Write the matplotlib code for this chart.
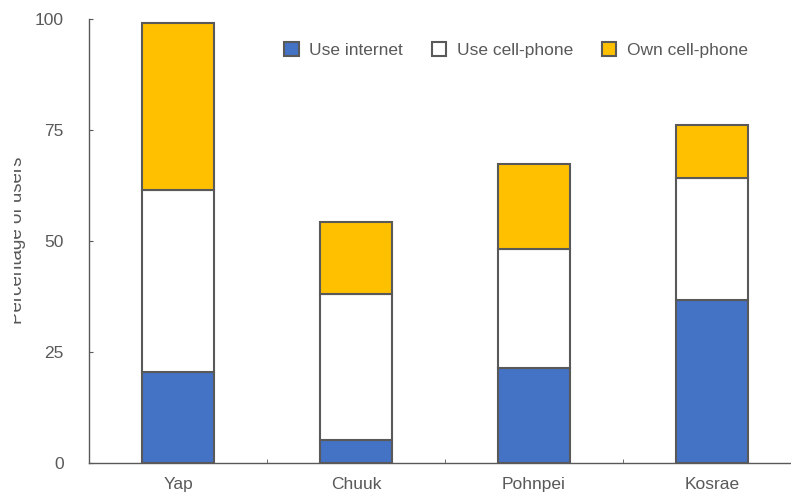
import matplotlib
matplotlib.use("Agg")
import matplotlib.pyplot as plt
from matplotlib.transforms import Bbox
import numpy as np

plt.rcParams['font.family'] = ['Liberation Sans', 'DejaVu Sans']

states = ["Yap", "Chuuk", "Pohnpei", "Kosrae"]
use_internet = [20.5, 5.2, 21.5, 36.8]
use_cellphone = [61.4, 38.1, 48.3, 64.2]   # cumulative top of white segment
own_cellphone = [99.0, 54.3, 67.3, 76.1]   # cumulative top of yellow segment

blue = "#4472C4"
yellow = "#FFC000"
edge = "#595959"
grey = "#595959"

fig = plt.figure(figsize=(7.91, 4.92), dpi=100)
ax = fig.add_axes([0.1125, 0.059, 0.9, 0.9024])

x = np.arange(len(states))
internet = np.array(use_internet)
cell = np.array(use_cellphone) - internet
own = np.array(own_cellphone) - np.array(use_cellphone)

w = 0.405
ax.bar(x, internet, w, color=blue, edgecolor=edge, linewidth=1.5, label="Use internet")
ax.bar(x, cell, w, bottom=internet, color="white", edgecolor=edge, linewidth=1.5,
       label="Use cell-phone")
ax.bar(x, own, w, bottom=np.array(use_cellphone), color=yellow, edgecolor=edge,
       linewidth=1.5, label="Own cell-phone")

ax.set_xlim(-0.5, 3.5)
ax.set_ylim(0, 100)
ax.set_yticks([0, 25, 50, 75, 100])
ax.set_xticks(x)
ax.set_xticklabels(states)
ax.set_xticks([0.5, 1.5, 2.5], minor=True)
ax.tick_params(axis='x', which='major', length=0, pad=10, labelsize=12.5, labelcolor=grey)
ax.tick_params(axis='x', which='minor', length=3, direction='in', color=edge)
ax.tick_params(axis='y', length=3, direction='in', color=edge, pad=18,
               labelsize=12.5, labelcolor=grey)

for s in ['top', 'right']:
    ax.spines[s].set_visible(False)
for s in ['left', 'bottom']:
    ax.spines[s].set_color(edge)
    ax.spines[s].set_linewidth(1.0)

# y label, partly cut off at the left as in the original
ylab = fig.text(26 / 791, 0.5 + 6 / 492, "Percentage of users", rotation=90,
                fontsize=13.5, color=grey, ha='right', va='center')
ylab.set_clip_box(Bbox.from_extents(14, 0, 791, 492))
ylab.set_clip_on(True)

leg = ax.legend(loc='upper left', bbox_to_anchor=(0.252, 0.983), ncol=3, frameon=False,
                fontsize=12.5, handlelength=0.85, handleheight=0.85, columnspacing=1.65,
                handletextpad=0.6)
for t in leg.get_texts():
    t.set_color(grey)

fig.savefig("out.png", dpi=100)
